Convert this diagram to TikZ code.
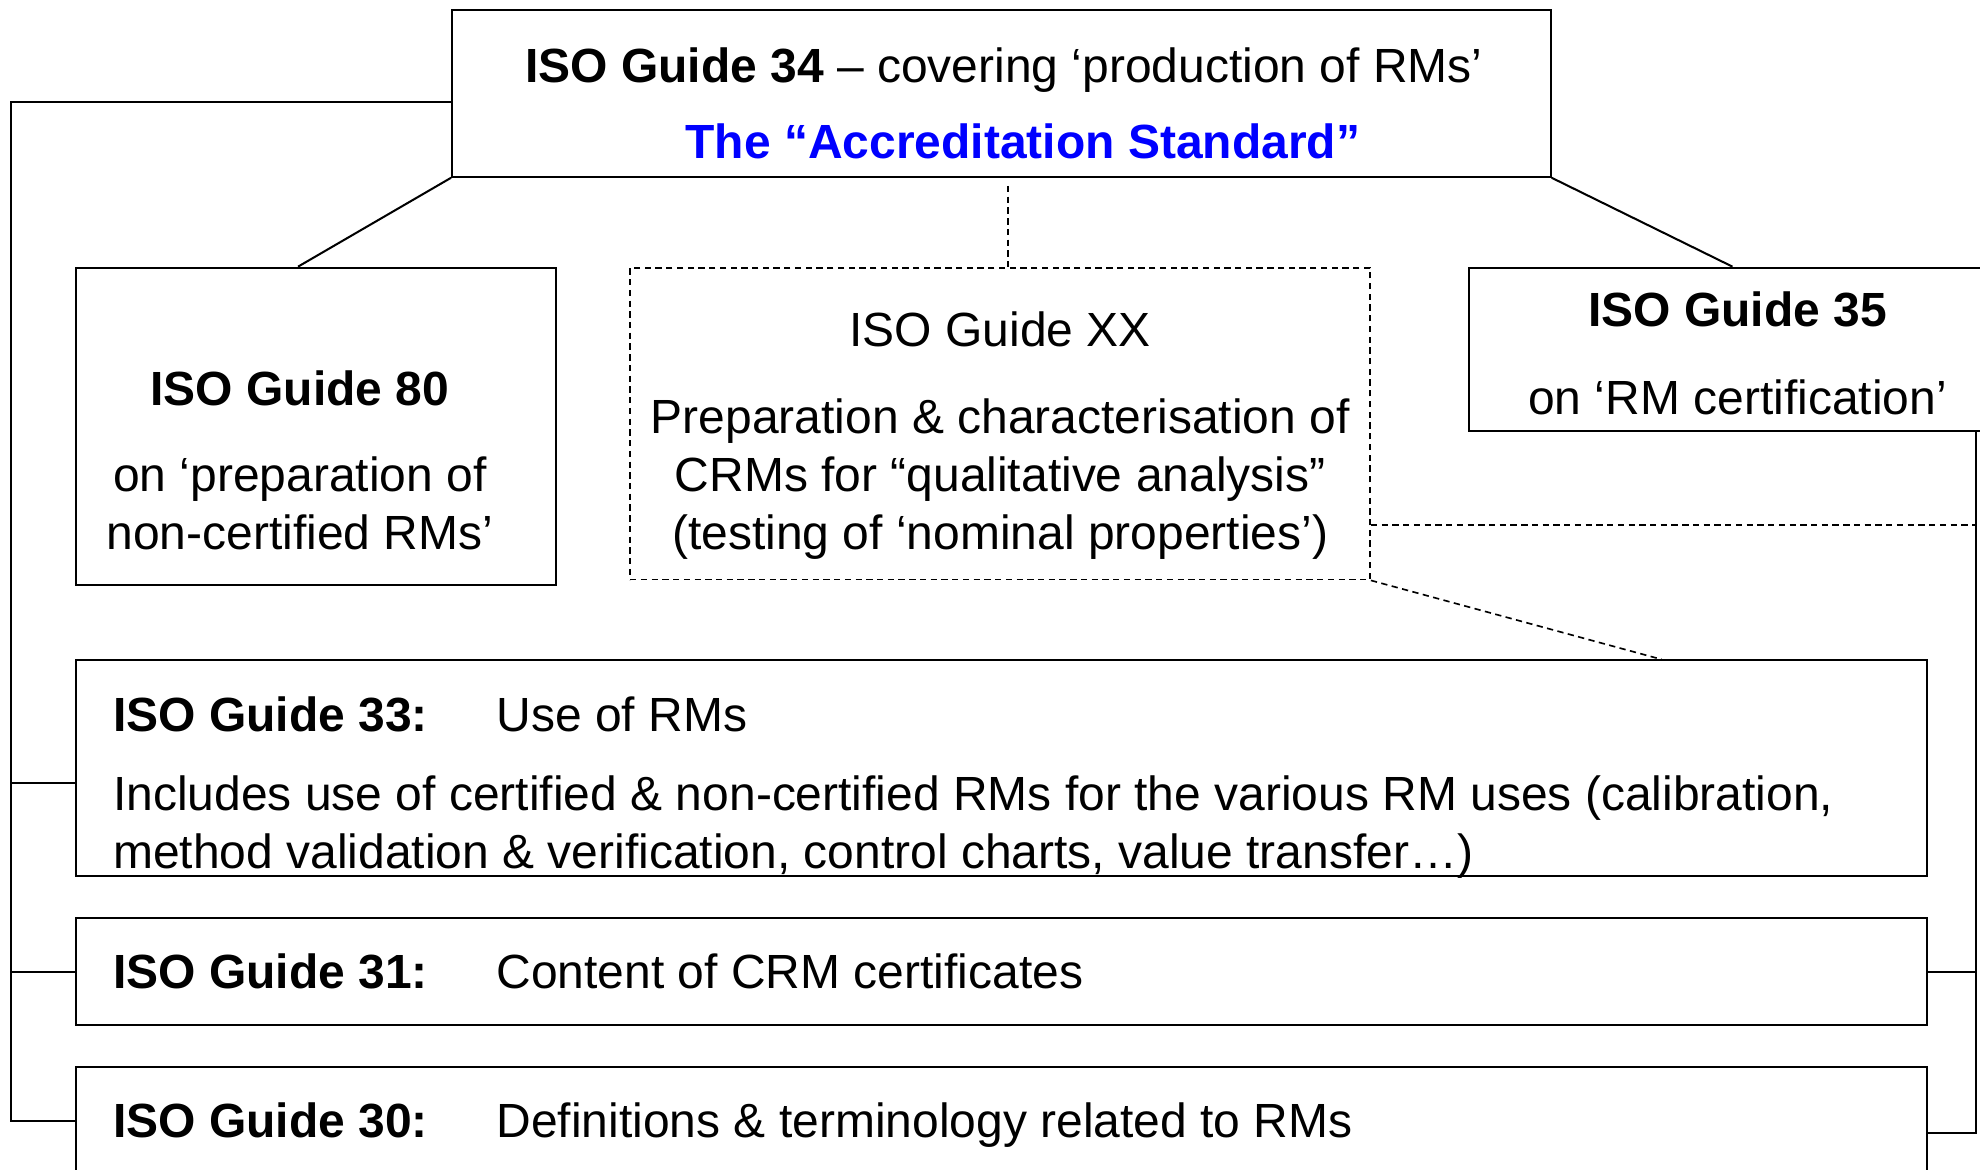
\documentclass[tikz,border=0pt]{standalone}
\usepackage{fontspec}
\setmainfont{Liberation Sans}
\usepackage{tikz}
\usetikzlibrary{arrows,shapes}

\begin{document}
\begin{tikzpicture}[x=1pt,y=1pt]

  \tikzstyle{guide}=[rectangle,draw=black,line width=1.6pt,inner sep=0pt]
  \tikzstyle{draft guide}=[guide,line width=1.3pt,dash pattern=on 5pt off 3.5pt]
  \tikzstyle{txt}=[inner sep=0pt,font=\fontsize{38pt}{46pt}\selectfont]
  \tikzstyle{link}=[draw=black,line width=1.6pt]
  \tikzstyle{draft link}=[link,line width=1.3pt,dash pattern=on 5pt off 3.5pt]

  \useasboundingbox (0,0) rectangle (1568,926);

  % the guides
  \node[guide,minimum width=870pt,minimum height=132pt]        (g34) at (793,852)    {};
  \node[guide,minimum width=380pt,minimum height=251pt]        (g80) at (250,588.5)  {};
  \node[draft guide,minimum width=586pt,minimum height=247pt]  (gxx) at (792,590.5)  {};
  \node[guide,minimum width=426pt,minimum height=129pt]        (g35) at (1376,649.5) {};
  \node[guide,minimum width=1466pt,minimum height=171pt]       (g33) at (793,317.5)  {};
  \node[guide,minimum width=1466pt,minimum height=85pt]        (g31) at (793,156.5)  {};
  \node[guide,minimum width=1466pt,minimum height=85pt]        (g30) at (793,38.5)   {};

  % texts
  \node[txt,anchor=north,align=center] (g34txt) at (795,888.2)
       {\textbf{ISO Guide 34} – covering ‘production of RMs’\\[13.9pt]\hspace*{30pt}\textcolor{blue}{\textbf{The “Accreditation Standard”}}};
  \node[txt,anchor=north,align=center] (g80txt) at (237.5,633)
       {\textbf{ISO Guide 80}\\[22.7pt]on ‘preparation of\\non-certified RMs’};
  \node[txt,anchor=north,align=center] (gxxtxt) at (792,679.2)
       {ISO Guide XX\\[22.5pt]Preparation \& characterisation of\\CRMs for “qualitative analysis”\\(testing of ‘nominal properties’)};
  \node[txt,anchor=north,align=center] (g35txt) at (1376,694.9)
       {\textbf{ISO Guide 35}\\[23.2pt]on ‘RM certification’};
  \node[txt,anchor=north west,align=left] (g33txt) at (89.5,374.1)
       {\makebox[303.5pt][l]{\textbf{ISO Guide 33:}}Use of RMs\\[16pt]Includes use of certified \& non-certified RMs for the various RM uses (calibration,\\method validation \& verification, control charts, value transfer…)};
  \node[txt,anchor=base west] (g31txt) at (89.5,143.4)
       {\makebox[303.5pt][l]{\textbf{ISO Guide 31:}}Content of CRM certificates};
  \node[txt,anchor=base west] (g30txt) at (89.5,25.4)
       {\makebox[303.5pt][l]{\textbf{ISO Guide 30:}}Definitions \& terminology related to RMs};

  % links from Guide 34
  \draw[link] (g34.south west) -- ([xshift=-14pt]g80.north);
  \draw[link] (g34.south east) -- ([xshift=-4pt]g35.north);
  \draw[draft link] ([xshift=5pt,yshift=-6.5pt]g34.south) -- ([xshift=6pt]gxx.north);

  % left bus
  \coordinate (lbus) at (8.5,845.5);
  \coordinate (s33)  at ([yshift=-11.3pt]g33.west);
  \draw[link] ([yshift=-6.5pt]g34.west) -- (lbus) |- (g30.west);
  \draw[link] (s33) -- (s33 -| lbus);
  \draw[link] (g31.west) -- (g31.west -| lbus);

  % right bus
  \coordinate (rbus) at (1565,585);
  \coordinate (s30)  at ([yshift=-9.8pt]g30.east);
  \coordinate (sxx)  at ([yshift=44pt]gxx.south east);
  \draw[link] (rbus) |- (s30);
  \draw[link] (g31.east) -- (g31.east -| rbus);
  \draw[draft link] (sxx) -- (sxx -| rbus);
  \draw[draft link] (gxx.south east) -- ([xshift=-211pt]g33.north east);

\end{tikzpicture}
\end{document}
